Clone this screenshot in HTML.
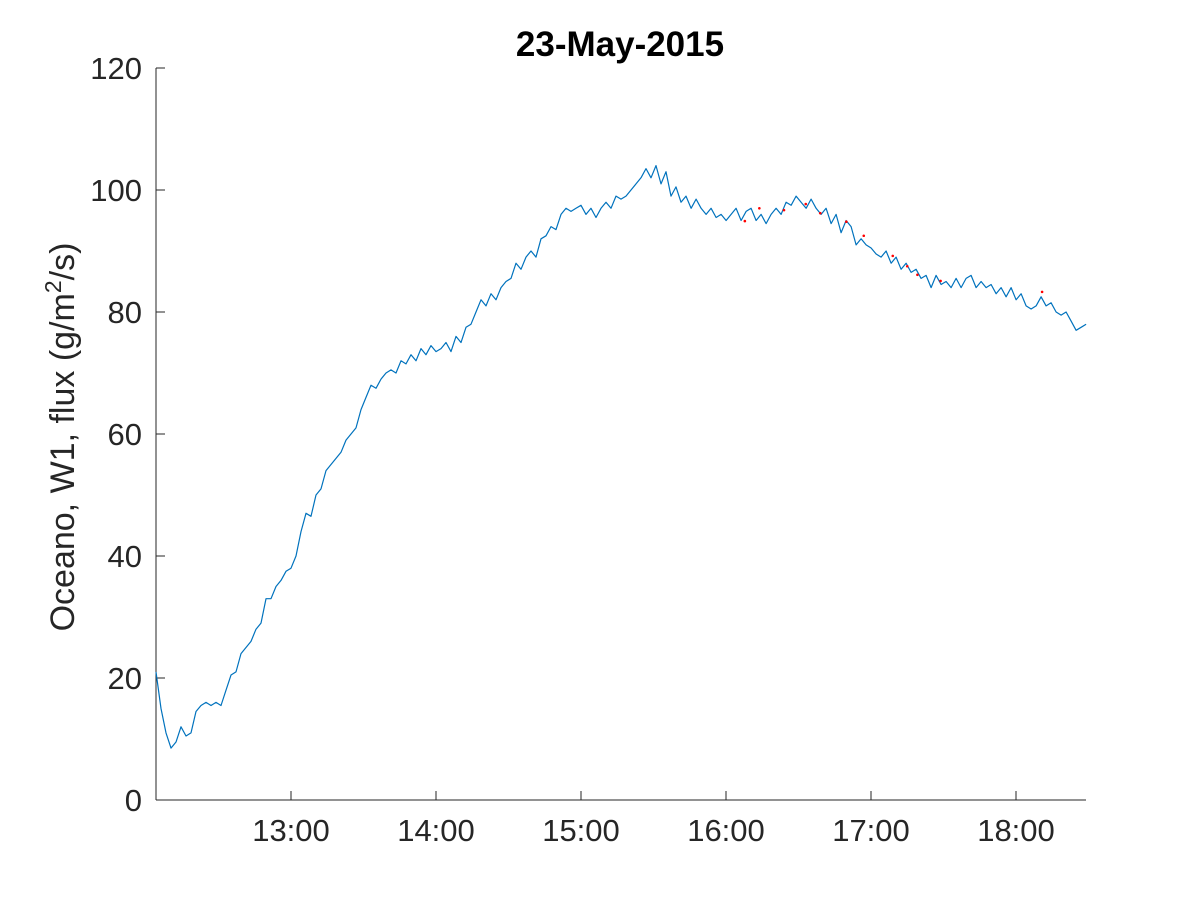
<!DOCTYPE html>
<html><head><meta charset="utf-8"><style>
html,body{margin:0;padding:0;background:#fff;}
svg{display:block;font-family:"Liberation Sans",sans-serif;}
</style></head><body>
<svg id="chart" width="1200" height="900">
<text x="620" y="56" text-anchor="middle" font-size="35" font-weight="bold" fill="#000">23-May-2015</text>
<text transform="translate(74,437) rotate(-90)" text-anchor="middle" font-size="34" fill="#262626">Oceano, W1, flux (g/m<tspan dy="-13" font-size="23">2</tspan><tspan dy="13">/s)</tspan></text>
<g id="axes"></g>
<g id="marks"></g>
</svg>
<script>
const startHour = 12 + 4.14/60;
const endHour = 18 + 29/60;
const fluxValues = [21,15,11,8.5,9.5,12,10.5,11,14.5,15.5,16,15.5,16,15.5,18,20.5,21,24,25,26,28,29,33,33,35,36,37.5,38,40,44,47,46.5,50,51,54,55,56,57,59,60,61,64,66,68,67.5,69,70,70.5,70,72,71.5,73,72,74,73,74.5,73.5,74,75,73.5,76,75,77.5,78,80,82,81,83,82,84,85,85.5,88,87,89,90,89,92,92.5,94,93.5,96,97,96.5,97,97.5,96,97,95.5,97,98,97,99,98.5,99,100,101,102,103.5,102,104,101,103,99,100.5,98,99,97,98.5,97,96,97,95.5,96,95,96,97,95,96.5,97,95,96,94.5,96,97,96,98,97.5,99,98,97,98.5,97,96,97,94.5,96,93,95,94,91,92,91,90.5,89.5,89,90,88,89,87,88,86.5,87,85.5,86,84,86,84.5,85,84,85.5,84,85.5,86,84,85,84,84.5,83,84,82.5,84,82,83,81,80.5,81,82.5,81,81.5,80,79.5,80,78.5,77,77.5,78];
const flagHours = [16.13,16.23,16.40,16.55,16.65,16.83,16.95,17.15,17.25,17.32,17.48,18.18];
const flagValues = [94.9,97.0,96.7,97.7,96.2,94.8,92.5,89.2,87.5,86.1,85.1,83.3];
const yTicks = [0,20,40,60,80,100,120];
const xTickHours = [13,14,15,16,17,18];
const xTickLabels = ["13:00","14:00","15:00","16:00","17:00","18:00"];

const NS="http://www.w3.org/2000/svg";
const L=156,R=1086,T=68,B=800;
const xs=h=>291+(h-13)*145;
const ys=v=>B-(v/120)*(B-T);
function mk(tag,attrs,parent){const e=document.createElementNS(NS,tag);for(const k in attrs)e.setAttribute(k,attrs[k]);parent.appendChild(e);return e;}
const ax=document.getElementById('axes'),mg=document.getElementById('marks');
let a=mk('line',{x1:L,y1:T,x2:L,y2:B,stroke:'#262626','stroke-width':1},ax);


a=mk('line',{x1:L,y1:B,x2:R,y2:B,stroke:'#262626','stroke-width':1},ax);


yTicks.forEach(v=>{const y=ys(v);
 const t=mk('line',{x1:L,y1:y,x2:L+9,y2:y,stroke:'#262626'},ax);
 
 
 const tx=mk('text',{x:L-14,y:y+11,'text-anchor':'end','font-size':31,fill:'#262626'},ax);tx.textContent=v;
 
 
});
xTickHours.forEach((h,i)=>{const x=xs(h);
 const t=mk('line',{x1:x,y1:B,x2:x,y2:B-9,stroke:'#262626'},ax);
 
 
 const tx=mk('text',{x:x,y:B+41,'text-anchor':'middle','font-size':31,fill:'#262626'},ax);tx.textContent=xTickLabels[i];
 
 
});
const n=fluxValues.length;
const pts=fluxValues.map((v,i)=>xs(startHour+(endHour-startHour)*i/(n-1)).toFixed(1)+','+ys(v).toFixed(1)).join(' ');
const line=mk('polyline',{points:pts,fill:'none',stroke:'#0072bd','stroke-width':1.2,'stroke-linejoin':'round'},mg);


flagHours.forEach((h,i)=>{
 const c=mk('circle',{cx:xs(h),cy:ys(flagValues[i]),r:1.3,fill:'#ff0000'},mg);
 
 
});
</script>
</body></html>
